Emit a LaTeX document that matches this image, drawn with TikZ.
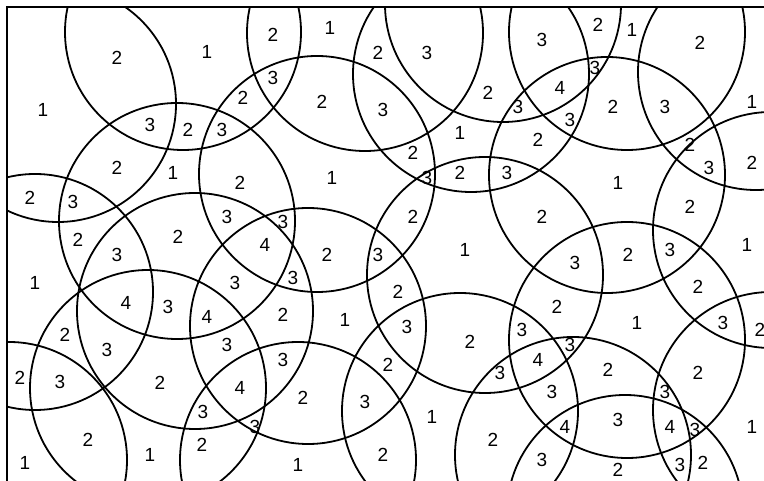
\documentclass[tikz,border=0pt]{standalone}
\usepackage{fontspec}
\setmainfont{Liberation Sans}
\begin{document}
\begin{tikzpicture}[x=1pt,y=-1pt,
  zone/.style={line width=1.8pt},
  frameline/.style={line width=2pt},
  num/.style={font=\fontsize{19}{19}\selectfont, inner sep=0pt}]
\useasboundingbox (0,0) rectangle (764,481);
\begin{scope}
\clip (7,7) rectangle (820,540);
\foreach \cx/\cy in {58/104, 183/32, 177/221, 365/33, 471/74, 503/4, 317/174,
  607/175, 627/32, 756/72, 35/292, 148/388, 195/311, 308/326, 485/275,
  460/411, 627/340, 771/230, 771/410, 9/460, 298/460, 573/455, 625/513}
  \draw[zone] (\cx,\cy) circle[radius=118];
\end{scope}
\coordinate (fbl) at (7,481);
\coordinate (ftl) at (7,7);
\coordinate (ftr) at (764,7);
\draw[frameline] (fbl) -- (ftl) -- (ftr);
\foreach \x/\y/\t [count=\i] in {
 117/58/2, 207/52/1, 273/35/2, 330/28/1, 378/53/2, 427/53/3, 542/40/3, 598/25/2,
 632/30/1, 700/43/2, 43/110/1, 273/78/3, 322/102/2, 383/110/3, 488/93/2, 560/88/4,
 595/68/3, 518/107/3, 570/120/3, 613/107/2, 665/107/3, 752/102/1, 150/125/3,
 188/130/2, 222/130/3, 243/98/2, 460/133/1, 413/153/2, 538/140/2, 690/145/2,
 117/168/2, 173/173/1, 240/183/2, 332/178/1, 427/178/3, 460/173/2, 507/173/3,
 618/183/1, 709/168/3, 752/163/2, 30/198/2, 73/202/3, 78/240/2, 117/255/3,
 178/237/2, 227/217/3, 283/222/3, 265/245/4, 327/255/2, 413/217/2, 378/255/3,
 465/250/1, 542/217/2, 690/207/2, 575/263/3, 628/255/2, 670/250/3, 747/245/1,
 35/283/1, 126/303/4, 168/307/3, 235/283/3, 207/317/4, 293/278/3, 283/315/2,
 345/320/1, 398/292/2, 407/327/3, 470/342/2, 557/307/2, 698/287/2, 637/323/1,
 723/323/3, 760/330/2, 522/330/3, 65/335/2, 107/350/3, 20/378/2, 60/382/3,
 160/383/2, 227/345/3, 240/388/4, 203/412/3, 283/360/3, 303/398/2, 365/402/3,
 388/365/2, 570/345/3, 538/360/4, 500/373/3, 608/370/2, 698/373/2, 552/392/3,
 665/392/3, 618/420/3, 565/427/4, 670/427/4, 695/430/3, 752/427/1, 88/440/2,
 150/455/1, 202/445/2, 255/427/3, 25/463/1, 298/465/1, 383/455/2, 432/417/1,
 493/440/2, 542/460/3, 618/470/2, 680/465/3, 703/463/2}
  \node[num] (n\i) at (\x,\y) {\t};
\end{tikzpicture}
\end{document}
